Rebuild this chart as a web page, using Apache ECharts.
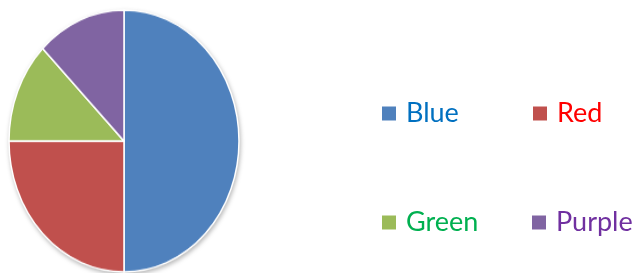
<!DOCTYPE html>
<html>
<head>
<meta charset="utf-8">
<script src="https://cdn.jsdelivr.net/npm/echarts@6/dist/echarts.min.js"></script>
<style>
  html, body { margin: 0; padding: 0; background: #fff; overflow: hidden; }
  #wrap { position: relative; width: 636px; height: 273px; }
  /* the reference pie is an ellipse, so the pie gets its own stretched layer */
  #pie {
    position: absolute; left: 0; top: 0; width: 250px; height: 273px;
    transform-origin: 0 141px; transform: scaleY(1.139);
    filter: drop-shadow(1px 2px 2px rgba(0,0,0,0.28));
  }
  #legend { position: absolute; left: 0; top: 0; width: 636px; height: 273px; }
</style>
</head>
<body>
<div id="wrap">
  <div id="pie"></div>
  <div id="legend"></div>
</div>
<script>
const names = ["Blue", "Red", "Green", "Purple"];
const values = [50, 25, 12.5, 12.5];
const sliceColors = ["#4F81BD", "#C0504D", "#9BBB59", "#8064A2"];
const textColors = ["#0070C0", "#FF0000", "#00B050", "#7030A0"];

const data = names.map((n, i) => ({ name: n, value: values[i], itemStyle: { color: sliceColors[i] } }));

const pie = echarts.init(document.getElementById("pie"));
pie.setOption({
  animation: false,
  series: [{
    type: "pie",
    center: [124, 141],
    radius: 115,
    startAngle: 90,
    clockwise: true,
    label: { show: false },
    labelLine: { show: false },
    emphasis: { disabled: true },
    itemStyle: { borderColor: "#fff", borderWidth: 1.5 },
    data,
  }],
});

// legend positions: two columns, two rows
const legendPos = [[382, 100], [533, 100], [382, 209], [532, 209]];

const legend = echarts.init(document.getElementById("legend"));
legend.setOption({
  animation: false,
  legend: names.map((n, i) => ({
    data: [n],
    left: legendPos[i][0],
    top: legendPos[i][1],
    padding: 0,
    icon: "rect",
    itemWidth: 14,
    itemHeight: 14,
    selectedMode: false,
    textStyle: {
      color: textColors[i],
      fontSize: 27,
      fontFamily: "Lato, 'Open Sans', sans-serif",
      padding: [0, 0, 0, 5],
    },
  })),
  series: [{
    type: "pie",
    radius: [0, 0],
    silent: true,
    label: { show: false },
    labelLine: { show: false },
    data,
  }],
});
</script>
</body>
</html>
